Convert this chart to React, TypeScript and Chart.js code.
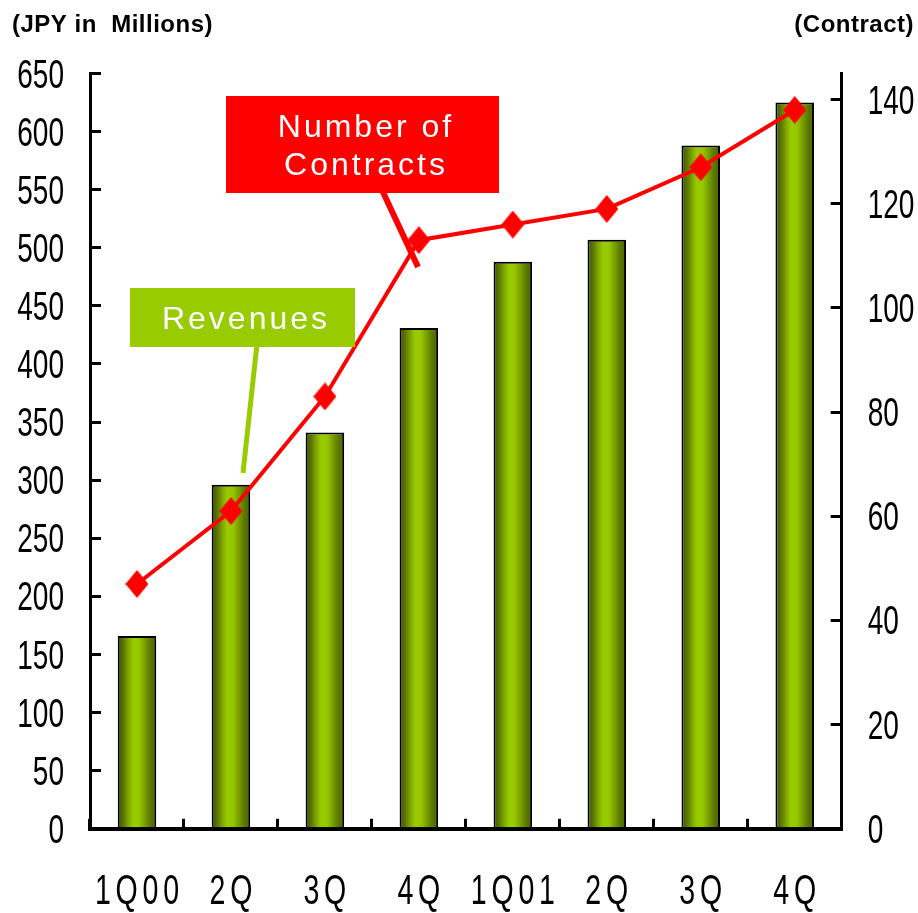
import React, { useEffect, useRef } from "react";
import { Chart, registerables } from "chart.js";

Chart.register(...registerables);

const quarters = ["1Q00", "2Q", "3Q", "4Q", "1Q01", "2Q", "3Q", "4Q"];
const revenues = [166, 296, 341, 431, 488, 507, 588, 625];
const contracts = [47, 61, 83, 113, 116, 119, 127, 138];
const leftTitle = "(JPY in  Millions)";
const rightTitle = "(Contract)";
const contractLabel = ["Number of", "Contracts"];
const revenueLabel = "Revenues";

const FONT = "'Liberation Sans', Arial, Helvetica, sans-serif";

function textStyleFor(text: string): { sx: number; ls: number; dy: number } | null {
  if (/Q/.test(text)) return { sx: 0.68, ls: 7, dy: -2 };
  if (/^\d+$/.test(text)) return { sx: 0.7, ls: 0, dy: 3 };
  return null;
}

const squeezePlugin = {
  id: "squeeze",
  beforeDraw(chart: any) {
    const ctx: any = chart.ctx;
    if (ctx.__squeezed) return;
    const orig = ctx.fillText.bind(ctx);
    ctx.fillText = function (text: any, x: number, y: number, maxWidth?: number) {
      const st = textStyleFor(String(text));
      if (!st) {
        return maxWidth === undefined ? orig(text, x, y) : orig(text, x, y, maxWidth);
      }
      const prev = ctx.letterSpacing;
      ctx.letterSpacing = st.ls + "px";
      const w = ctx.measureText(String(text)).width;
      const shift = ctx.textAlign === "center" ? (st.ls * st.sx) / 2 : 0;
      orig(text, x + shift, y + st.dy, w * st.sx);
      ctx.letterSpacing = prev;
    };
    ctx.__squeezed = true;
  },
};

function makeDiamond(): HTMLCanvasElement {
  const c = document.createElement("canvas");
  c.width = 23;
  c.height = 28;
  const g = c.getContext("2d")!;
  g.fillStyle = "#ff0000";
  g.beginPath();
  g.moveTo(11.5, 0);
  g.lineTo(23, 14);
  g.lineTo(11.5, 28);
  g.lineTo(0, 14);
  g.closePath();
  g.fill();
  return c;
}

const annotationPlugin = {
  id: "annotations",
  afterDatasetsDraw(chart: any) {
    const ctx = chart.ctx as CanvasRenderingContext2D;
    ctx.save();
    // red callout
    ctx.strokeStyle = "#ff0000";
    ctx.lineWidth = 6;
    ctx.beginPath();
    ctx.moveTo(382, 190);
    ctx.lineTo(418, 267);
    ctx.stroke();
    ctx.fillStyle = "#ff0000";
    ctx.fillRect(226, 96, 273, 97);
    // green callout
    ctx.strokeStyle = "#99cc00";
    ctx.lineWidth = 5;
    ctx.beginPath();
    ctx.moveTo(257, 344);
    ctx.lineTo(243, 473);
    ctx.stroke();
    ctx.fillStyle = "#99cc00";
    ctx.fillRect(130, 288, 225, 59);
    // texts
    ctx.fillStyle = "#ffffff";
    ctx.font = `32px ${FONT}`;
    (ctx as any).letterSpacing = "3px";
    ctx.textAlign = "center";
    ctx.textBaseline = "alphabetic";
    ctx.fillText(contractLabel[0], 366, 137);
    ctx.fillText(contractLabel[1], 366, 175);
    ctx.fillText(revenueLabel, 246, 329);
    ctx.restore();
  },
  afterDraw(chart: any) {
    const ctx = chart.ctx as CanvasRenderingContext2D;
    ctx.save();
    ctx.fillStyle = "#000000";
    ctx.font = `bold 24px ${FONT}`;
    (ctx as any).letterSpacing = "0.5px";
    ctx.textBaseline = "alphabetic";
    ctx.textAlign = "left";
    ctx.fillText(leftTitle, 12, 32);
    ctx.textAlign = "right";
    ctx.fillText(rightTitle, 914, 32);
    ctx.restore();
  },
};

export default function App() {
  const ref = useRef<HTMLCanvasElement>(null);
  useEffect(() => {
    const canvas = ref.current!;
    const diamond = makeDiamond();
    const chart = new Chart(canvas, {
      type: "bar",
      data: {
        labels: quarters,
        datasets: [
          {
            type: "line",
            label: "Number of Contracts",
            data: contracts,
            yAxisID: "y1",
            borderColor: "#ff0000",
            backgroundColor: "#ff0000",
            borderWidth: 4,
            tension: 0,
            pointStyle: diamond as any,
            pointRadius: 12,
            order: 0,
          } as any,
          {
            type: "bar",
            label: "Revenues",
            data: revenues,
            yAxisID: "y",
            borderColor: "#000000",
            borderWidth: 2,
            barPercentage: 0.41,
            categoryPercentage: 1,
            order: 1,
            backgroundColor: (c: any) => {
              const ch = c.chart;
              const xs = ch.scales && ch.scales.x;
              if (!xs || c.type !== "data") return "#99cc00";
              const cx = xs.getPixelForValue(c.dataIndex);
              const half = ((xs.width / quarters.length) * 0.41) / 2;
              if (!isFinite(cx) || !isFinite(half) || half <= 0) return "#99cc00";
              const g = ch.ctx.createLinearGradient(cx - half, 0, cx + half, 0);
              g.addColorStop(0, "#3d5200");
              g.addColorStop(0.14, "#587500");
              g.addColorStop(0.28, "#7fa600");
              g.addColorStop(0.4, "#99cc00");
              g.addColorStop(0.55, "#96c800");
              g.addColorStop(0.7, "#7a9f00");
              g.addColorStop(0.85, "#5a7800");
              g.addColorStop(1, "#4a6300");
              return g;
            },
          } as any,
        ],
      },
      options: {
        responsive: false,
        animation: false,
        devicePixelRatio: 1,
        layout: { padding: { top: 73.5, left: 0, right: 0, bottom: 0 } },
        plugins: {
          legend: { display: false },
          tooltip: { enabled: false },
          title: { display: false },
        },
        scales: {
          x: {
            type: "category",
            offset: true,
            border: { color: "#000000", width: 4 },
            grid: {
              offset: true,
              drawOnChartArea: false,
              drawTicks: true,
              tickLength: -10,
              color: "#000000",
              lineWidth: 3,
            },
            ticks: {
              autoSkip: false,
              maxRotation: 0,
              minRotation: 0,
              padding: 50,
              color: "#000000",
              font: { family: FONT, size: 42 },
            },
            afterFit: (s: any) => {
              s.height = 84.2;
              s.paddingLeft = 0;
              s.paddingRight = 0;
            },
          },
          y: {
            type: "linear",
            position: "left",
            min: 0,
            max: 650,
            border: { color: "#000000", width: 3 },
            grid: {
              drawOnChartArea: false,
              drawTicks: true,
              tickLength: -11,
              color: "#000000",
              lineWidth: 3,
            },
            ticks: {
              stepSize: 50,
              padding: 37,
              color: "#000000",
              font: { family: FONT, size: 40 },
            },
            afterFit: (s: any) => {
              s.width = 90;
              s.paddingTop = 0;
              s.paddingBottom = 0;
            },
          },
          y1: {
            type: "linear",
            position: "right",
            min: 0,
            max: 145,
            border: { color: "#000000", width: 3 },
            grid: {
              drawOnChartArea: false,
              drawTicks: true,
              tickLength: -11,
              color: "#000000",
              lineWidth: 3,
            },
            ticks: {
              stepSize: 20,
              includeBounds: false,
              padding: 37,
              color: "#000000",
              font: { family: FONT, size: 40 },
            },
            afterFit: (s: any) => {
              s.width = 76.3;
              s.paddingTop = 0;
              s.paddingBottom = 0;
            },
          },
        },
      },
      plugins: [squeezePlugin, annotationPlugin],
    });
    return () => chart.destroy();
  }, []);
  return (
    <div style={{ position: "fixed", left: 0, top: 0, width: 918, height: 913, background: "#ffffff" }}>
      <canvas ref={ref} width={918} height={913} style={{ display: "block" }} />
    </div>
  );
}
